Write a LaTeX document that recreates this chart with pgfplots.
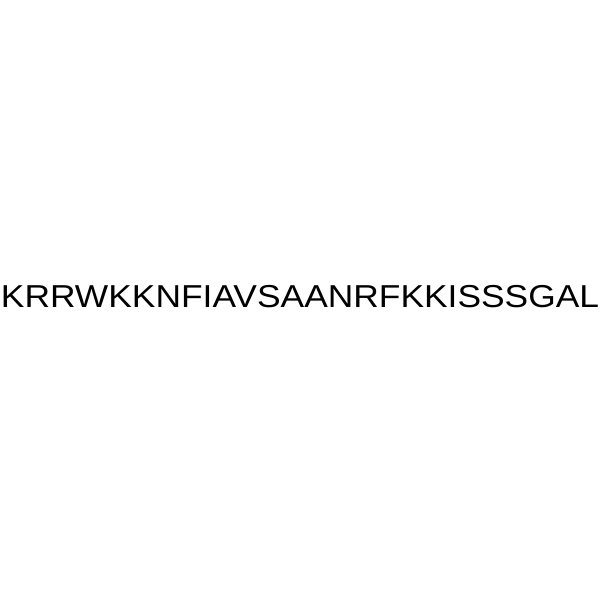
\documentclass[border=0pt]{standalone}
\usepackage{pgfplots}
\pgfplotsset{compat=1.18}
\usepackage{fontspec}
\setmainfont{Liberation Sans}
\usepackage{graphicx}

\begin{document}
\begin{tikzpicture}
\begin{axis}[
    width=600pt, height=600pt,
    scale only axis,
    hide axis,
    xmin=0, xmax=600,
    ymin=0, ymax=600,
    clip=false,
  ]
  % invisible corners to keep the square frame
  \addplot[draw=none, mark=none] coordinates {(0,0) (600,600)};
  \node[anchor=base, inner sep=0pt, text=black]
    at (axis cs:300,292.3)
    {\resizebox{598pt}{\height}{\fontsize{31.7pt}{38pt}\selectfont KRRWKKNFIAVSAANRFKKISSSGAL}};
\end{axis}
\end{tikzpicture}
\end{document}
